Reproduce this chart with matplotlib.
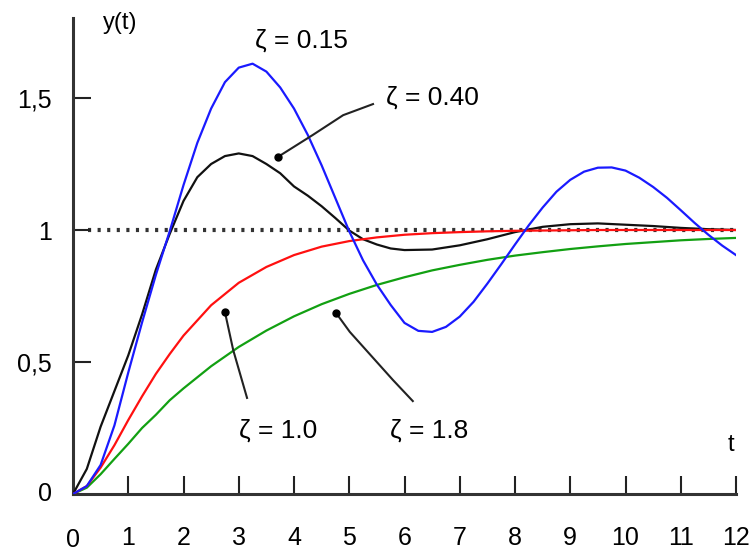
import matplotlib
matplotlib.use("Agg")
import matplotlib.pyplot as plt

plt.rcParams['font.family'] = ['Liberation Sans', 'DejaVu Sans']

# ---- data ----
t_fine = [0, 0.25, 0.5, 0.75, 1.0, 1.25, 1.5, 1.75, 2.0, 2.25, 2.5, 2.75, 3.0,
          3.25, 3.5, 3.75, 4.0, 4.25, 4.5, 4.75, 5.0, 5.25, 5.5, 5.75, 6.0,
          6.25, 6.5, 6.75, 7.0, 7.25, 7.5, 7.75, 8.0, 8.25, 8.5, 8.75, 9.0,
          9.25, 9.5, 9.75, 10.0, 10.25, 10.5, 10.75, 11.0, 11.25, 11.5, 11.75, 12.0]

y_015 = [0, 0.03, 0.11, 0.26, 0.46, 0.65, 0.83, 0.995, 1.17, 1.33, 1.46, 1.56, 1.615,
         1.63, 1.60, 1.54, 1.46, 1.36, 1.245, 1.12, 0.995, 0.885, 0.793, 0.716, 0.648,
         0.618, 0.614, 0.633, 0.672, 0.728, 0.797, 0.870, 0.945, 1.018, 1.085, 1.145, 1.19,
         1.221, 1.236, 1.237, 1.225, 1.198, 1.163, 1.122, 1.075, 1.027, 0.982, 0.941, 0.905]

t_040 = [0, 0.25, 0.5, 0.75, 1.0, 1.25, 1.5, 1.75, 2.0, 2.25, 2.5, 2.75, 3.0,
         3.25, 3.5, 3.75, 4.0, 4.25, 4.5, 4.75, 5.0, 5.25, 5.5, 5.75, 6.0,
         6.5, 7.0, 7.5, 8.0, 8.5, 9.0, 9.5, 10.0, 10.5, 11.0, 11.5, 12.0]
y_040 = [0, 0.095, 0.255, 0.39, 0.525, 0.68, 0.85, 0.985, 1.11, 1.20, 1.25, 1.28, 1.29,
         1.28, 1.25, 1.215, 1.165, 1.13, 1.09, 1.045, 0.998, 0.965, 0.945, 0.93, 0.924,
         0.926, 0.942, 0.965, 0.992, 1.012, 1.022, 1.025, 1.02, 1.015, 1.008, 1.003, 1.0]

t_slow = [0, 0.25, 0.5, 0.75, 1.0, 1.25, 1.5, 1.75, 2.0, 2.5, 3.0, 3.5, 4.0, 4.5,
          5.0, 5.5, 6.0, 6.5, 7.0, 7.5, 8.0, 8.5, 9.0, 9.5, 10.0, 10.5, 11.0, 11.5, 12.0]
y_100 = [0, 0.03, 0.10, 0.185, 0.28, 0.37, 0.455, 0.53, 0.60, 0.715, 0.80, 0.86, 0.905, 0.937,
         0.958, 0.972, 0.982, 0.988, 0.992, 0.995, 0.997, 0.998, 0.999, 1.0, 1.0, 1.0, 1.0, 1.0, 1.0]
y_180 = [0, 0.024, 0.075, 0.133, 0.19, 0.25, 0.30, 0.355, 0.40, 0.484, 0.557, 0.619, 0.673, 0.719,
         0.758, 0.792, 0.821, 0.847, 0.868, 0.887, 0.903, 0.916, 0.928, 0.938, 0.947, 0.954, 0.961, 0.966, 0.970]

x_ticks = list(range(1, 13))
x_ticklabels = [str(v) for v in x_ticks]
y_ticks = [0.5, 1.0, 1.5]
y_ticklabels = ['0,5', '1', '1,5']

labels = ['ζ = 0.15', 'ζ = 0.40', 'ζ = 1.0', 'ζ = 1.8']

# ---- figure ----
fig = plt.figure(figsize=(7.54, 5.52), dpi=100)
ax = fig.add_axes([73/754, 58/552, 663/754, 476/552])
ax.set_xlim(0, 12)
ax.set_ylim(0, 476/264)

ax.axhline(1.0, xmin=0.022, xmax=1.0, color='#333333', lw=3.0,
           linestyle=(0, (0.75, 1.55)), zorder=1)

ax.plot(t_slow, y_180, color='#12a012', lw=1.6, zorder=2)
ax.plot(t_040, y_040, color='#111111', lw=1.6, zorder=3)
ax.plot(t_slow, y_100, color='#ff1010', lw=1.6, zorder=4)
ax.plot(t_fine, y_015, color='#1a1aff', lw=1.6, zorder=5)

# leader lines
lead_040 = ([5.43, 4.89, 4.34, 3.71], [1.477, 1.435, 1.36, 1.277])
lead_100 = ([3.15, 2.90, 2.75], [0.364, 0.545, 0.689])
lead_180 = ([6.15, 5.79, 5.01, 4.76], [0.352, 0.432, 0.614, 0.686])
for lx, ly in (lead_040, lead_100, lead_180):
    ax.plot(lx, ly, color='#222222', lw=1.5, zorder=6)
    ax.plot(lx[-1], ly[-1], 'o', color='black', ms=5, zorder=6)

fs_ann = 19
ax.text(4.13, 1.716, labels[0], fontsize=fs_ann, ha='center', va='center')
ax.text(6.50, 1.50, labels[1], fontsize=fs_ann, ha='center', va='center')
ax.text(3.71, 0.242, labels[2], fontsize=fs_ann, ha='center', va='center')
ax.text(6.44, 0.242, labels[3], fontsize=fs_ann, ha='center', va='center')
ax.text(0.85, 1.784, 'y(t)', fontsize=17, ha='center', va='center')
ax.text(11.91, 0.186, 't', fontsize=17, ha='center', va='center')

for s in ('top', 'right'):
    ax.spines[s].set_visible(False)
for s in ('left', 'bottom'):
    ax.spines[s].set_color('#333333')
    ax.spines[s].set_linewidth(2.2)

ax.set_xticks(x_ticks)
ax.set_xticklabels(x_ticklabels)
ax.set_yticks(y_ticks)
ax.set_yticklabels(y_ticklabels)
ax.tick_params(axis='both', direction='in', length=13, width=1.5,
               color='#222222', labelsize=18)
ax.tick_params(axis='x', pad=23)
ax.tick_params(axis='y', pad=15)

# origin labels "0"
ax.text(0, -0.175, '0', fontsize=18, ha='center', va='center')
ax.text(-0.38, 0.0, '0', fontsize=18, ha='right', va='center')

fig.savefig('out.png', dpi=100, facecolor='white')
